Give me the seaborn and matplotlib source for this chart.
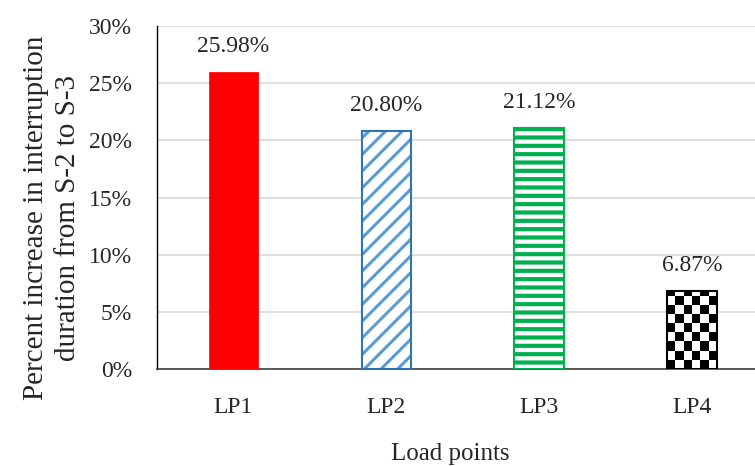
import numpy as np
import pandas as pd
import matplotlib
matplotlib.use("Agg")
import matplotlib.pyplot as plt
import seaborn as sns
from matplotlib.patches import Rectangle

categories = ["LP1", "LP2", "LP3", "LP4"]
values = [25.98, 20.80, 21.12, 6.87]
value_labels = ["25.98%", "20.80%", "21.12%", "6.87%"]
yticks = [0, 5, 10, 15, 20, 25, 30]
ytick_labels = ["0%", "5%", "10%", "15%", "20%", "25%", "30%"]

sns.set_style("white")
plt.rcParams["font.family"] = ["Liberation Serif", "DejaVu Serif"]
plt.rcParams["hatch.linewidth"] = 2.4

df = pd.DataFrame({"cat": categories, "val": values})

fig = plt.figure(figsize=(7.55, 4.66), dpi=100)
ax = fig.add_axes([0.208, 0.208, 0.81, 0.736])

sns.barplot(data=df, x="cat", y="val", ax=ax, width=0.325, color="white",
            saturation=1, linewidth=0, zorder=3)

patches = ax.patches
# LP1 solid red
patches[0].set_facecolor("#FF0000")
patches[0].set_edgecolor("#FF0000")
patches[0].set_linewidth(0.5)
# LP2 blue diagonal stripes
patches[1].set_facecolor("white")
patches[1].set_edgecolor("#5B9BD5")
patches[1].set_hatch("//")
patches[1].set_linewidth(0)
# LP3 green horizontal stripes
patches[2].set_facecolor("white")
patches[2].set_edgecolor("#00B050")
patches[2].set_hatch("--")
patches[2].set_linewidth(0)
# LP4 checkerboard
patches[3].set_facecolor("white")
patches[3].set_edgecolor("black")
patches[3].set_linewidth(0)

hatch_widths = [None, 2.2, 3.0, None]
for p, hw in zip(patches, hatch_widths):
    if hw is not None and hasattr(p, "set_hatch_linewidth"):
        p.set_hatch_linewidth(hw)

outline_colors = [None, "#2E75B6", "#00B050", "black"]
for p, oc in zip(patches, outline_colors):
    if oc is None:
        continue
    x0, y0, w, h = p.get_x(), p.get_y(), p.get_width(), p.get_height()
    ax.add_patch(Rectangle((x0, y0), w, h, fill=False, edgecolor=oc,
                           linewidth=1.5, zorder=5))

# checkerboard for LP4
p = patches[3]
x0, w, h = p.get_x(), p.get_width(), p.get_height()
ncols = 6
nrows = 9
checker = (np.add.outer(np.arange(nrows), np.arange(ncols)) % 2).astype(float)
im = ax.imshow(checker, cmap="gray", extent=[x0, x0 + w, 0, h * nrows / 8.6],
               origin="lower", interpolation="nearest", aspect="auto", zorder=4)
im.set_clip_path(p)

ax.set_xlim(-0.5, 3.5)
ax.set_ylim(0, 30)
ax.set_yticks(yticks)
ax.set_yticklabels(ytick_labels, fontsize=17)
ax.tick_params(axis="x", labelsize=17, pad=20, length=0)
ax.tick_params(axis="y", pad=18, length=0)
ax.yaxis.grid(True, color="#D9D9D9", linewidth=1.2, zorder=0)
ax.set_axisbelow(True)

for s in ["top", "right"]:
    ax.spines[s].set_visible(False)
ax.spines["left"].set_color("black")
ax.spines["left"].set_linewidth(1.0)
ax.spines["bottom"].set_color("#404040")
ax.spines["bottom"].set_linewidth(1.2)

for i, (v, lab) in enumerate(zip(values, value_labels)):
    ax.text(i, v + 1.3, lab, ha="center", va="bottom", fontsize=17)

ax.set_xlabel("Load points", fontsize=18)
ax.xaxis.set_label_coords(0.48, -0.215)
ax.set_ylabel("Percent increase in interruption\nduration from S-2 to S-3",
              fontsize=21, linespacing=1.3)
ax.yaxis.label.set_ha("center")
ax.yaxis.set_label_coords(-0.125, 0.44)

fig.savefig("out.png", dpi=100)
